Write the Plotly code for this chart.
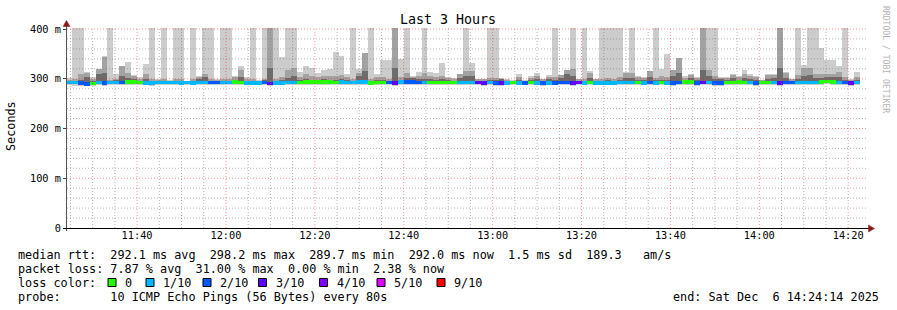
import plotly.graph_objects as go
from datetime import datetime, timedelta

# ---------------- data ----------------
DATA_START = datetime(2025, 12, 6, 11, 24, 0)
STEP_S = 80
RANGE_START = datetime(2025, 12, 6, 11, 24, 14)
RANGE_END = datetime(2025, 12, 6, 14, 24, 14)

smoke_max = [
    302, 404, 404, 313, 303, 320, 345, 404, 309, 326,
    333, 307, 304, 330, 404, 300, 404, 297, 404, 404,
    296, 404, 305, 404, 404, 300, 404, 404, 305, 326,
    304, 404, 297, 404, 404, 404, 344, 404, 404, 313,
    325, 322, 311, 318, 320, 354, 346, 310, 404, 320,
    352, 404, 310, 338, 338, 404, 339, 404, 305, 313,
    404, 313, 311, 332, 303, 301, 303, 404, 331, 300,
    300, 404, 404, 301, 299, 297, 309, 297, 305, 312,
    300, 307, 404, 307, 318, 404, 300, 404, 315, 300,
    404, 404, 404, 404, 313, 404, 305, 303, 315, 404,
    319, 349, 318, 341, 305, 309, 303, 404, 404, 404,
    303, 304, 310, 305, 318, 309, 305, 298, 309, 309,
    404, 313, 300, 404, 328, 404, 404, 362, 337, 338,
    326, 404, 299, 314,
]
smoke_mid = [
    297, 299, 309, 312, 300, 319, 344, 298, 300, 325,
    312, 306, 300, 310, 300, 298, 300, 296, 299, 300,
    295, 300, 304, 309, 300, 298, 300, 299, 303, 318,
    300, 299, 296, 300, 404, 300, 303, 318, 322, 303,
    310, 305, 303, 306, 305, 305, 308, 303, 300, 312,
    352, 300, 303, 303, 300, 404, 304, 312, 304, 305,
    312, 305, 303, 306, 301, 299, 310, 315, 315, 299,
    299, 302, 302, 300, 297, 296, 303, 296, 302, 305,
    299, 304, 303, 307, 317, 319, 299, 300, 312, 299,
    300, 302, 300, 303, 312, 312, 303, 301, 315, 302,
    305, 304, 318, 341, 302, 308, 301, 404, 318, 305,
    302, 302, 307, 303, 310, 306, 303, 297, 307, 308,
    404, 311, 299, 307, 321, 321, 310, 309, 310, 310,
    313, 303, 298, 303,
]
smoke_dark = [
    295, 296, 298, 303, 295, 309, 312, 295, 297, 306,
    302, 299, 296, 300, 296, 295, 296, 295, 296, 296,
    294, 296, 300, 303, 296, 296, 296, 296, 298, 303,
    296, 296, 295, 297, 321, 296, 297, 302, 305, 298,
    300, 298, 298, 299, 298, 298, 300, 298, 296, 306,
    316, 296, 298, 298, 296, 322, 298, 302, 301, 299,
    300, 299, 298, 300, 297, 296, 302, 306, 306, 296,
    296, 297, 297, 300, 295, 295, 298, 294, 297, 299,
    296, 299, 298, 302, 309, 305, 296, 296, 302, 296,
    296, 297, 296, 298, 302, 302, 298, 297, 303, 297,
    298, 298, 305, 311, 298, 301, 297, 318, 305, 299,
    300, 298, 301, 298, 301, 299, 298, 295, 300, 302,
    321, 302, 296, 300, 306, 308, 301, 301, 303, 303,
    303, 297, 296, 297,
]
smoke_min = [
    286.5, 286.0, 285.5, 285.0, 286.0, 286.5, 286.0, 286.5, 287.0, 286.5,
    287.0, 287.5, 287.0, 286.5, 286.0, 287.0, 286.5, 287.0, 287.0, 286.5,
    287.0, 286.5, 287.5, 287.0, 286.5, 287.0, 286.5, 287.0, 287.5, 287.0,
    286.5, 286.5, 286.5, 287.0, 285.0, 286.5, 286.5, 287.0, 287.0, 287.5,
    288.0, 288.0, 288.0, 288.0, 287.5, 287.5, 287.5, 287.5, 287.0, 287.5,
    287.5, 286.5, 287.0, 287.5, 287.0, 285.5, 287.5, 287.5, 287.5, 287.0,
    287.0, 287.5, 287.5, 287.0, 287.0, 287.0, 287.0, 287.0, 287.0, 286.5,
    285.5, 287.0, 286.0, 286.0, 286.5, 287.0, 286.5, 286.5, 287.0, 286.5,
    286.0, 286.5, 286.5, 287.0, 286.5, 286.0, 286.5, 286.5, 287.0, 286.5,
    286.5, 286.5, 286.5, 287.0, 287.0, 286.5, 287.5, 286.5, 286.5, 286.5,
    287.0, 286.5, 286.0, 286.5, 288.0, 288.0, 285.5, 286.5, 287.0, 286.0,
    286.0, 287.5, 287.5, 287.5, 287.5, 287.0, 286.0, 287.0, 287.5, 287.5,
    286.0, 287.0, 287.0, 286.5, 287.5, 287.0, 287.0, 287.5, 288.5, 288.0,
    287.5, 286.5, 285.5, 286.5,
]
median_rtt = [
    292.5, 292.3, 291.6, 289.8, 290.8, 292.0, 291.2, 292.1, 292.6, 292.0,
    293.2, 293.8, 292.4, 291.8, 291.6, 292.4, 292.0, 292.5, 292.1, 291.7,
    292.0, 291.9, 292.8, 292.4, 292.6, 292.8, 292.1, 292.0, 293.0, 292.5,
    291.5, 291.4, 291.6, 292.3, 290.8, 291.9, 291.6, 292.2, 292.0, 292.3,
    293.4, 293.6, 293.8, 293.5, 293.2, 292.6, 293.0, 292.8, 292.5, 293.2,
    293.0, 291.9, 292.4, 292.7, 292.4, 291.2, 293.0, 293.3, 293.0, 292.6,
    292.2, 292.6, 292.8, 292.4, 292.5, 292.2, 292.4, 292.2, 292.6, 292.0,
    291.0, 292.2, 291.4, 291.7, 291.9, 292.1, 291.6, 291.8, 292.4, 291.6,
    291.5, 291.8, 291.9, 292.2, 292.0, 291.8, 292.1, 291.9, 292.2, 291.8,
    291.9, 291.8, 291.7, 292.1, 292.4, 292.0, 292.8, 291.7, 292.0, 291.8,
    292.5, 291.9, 291.6, 292.4, 293.2, 293.2, 291.0, 292.0, 292.2, 291.1,
    291.3, 292.8, 292.8, 293.0, 292.7, 292.2, 291.4, 292.4, 292.5, 292.6,
    291.8, 292.2, 292.3, 292.0, 292.8, 292.6, 292.3, 293.0, 294.0, 293.6,
    292.6, 292.0, 291.0, 292.0,
]
loss_index = [
    1, 1, 2, 2, 0, 1, 2, 1, 1, 2,
    0, 0, 0, 1, 1, 1, 1, 1, 1, 1,
    1, 1, 1, 1, 2, 2, 1, 1, 0, 0,
    1, 1, 1, 2, 3, 1, 1, 1, 1, 0,
    0, 0, 0, 0, 0, 0, 1, 1, 1, 1,
    1, 0, 0, 0, 2, 3, 1, 2, 2, 2,
    1, 0, 0, 0, 0, 0, 1, 1, 1, 3,
    3, 1, 2, 3, 1, 0, 1, 2, 0, 1,
    2, 1, 2, 2, 2, 3, 3, 1, 0, 1,
    1, 1, 1, 1, 1, 1, 0, 1, 2, 1,
    0, 1, 2, 2, 0, 0, 2, 3, 1, 2,
    2, 0, 0, 0, 0, 1, 2, 0, 0, 1,
    3, 2, 2, 1, 1, 1, 1, 0, 0, 0,
    1, 2, 3, 1,
]
loss_labels = ["0", "1/10", "2/10", "3/10", "4/10", "5/10", "9/10"]
loss_colors = ["#26ff00", "#00b8ff", "#0059ff", "#5e00ff", "#7e00ff", "#dd00ff", "#ff0000"]

x_tick_labels = ["11:40", "12:00", "12:20", "12:40", "13:00", "13:20", "13:40", "14:00", "14:20"]
y_tickvals = [0, 100, 200, 300, 400]
y_ticktext = ["0", "100 m", "200 m", "300 m", "400 m"]

title_text = "Last 3 Hours"
legend_line1 = "median rtt:  292.1 ms avg  298.2 ms max  289.7 ms min  292.0 ms now  1.5 ms sd  189.3   am/s"
legend_line2 = "packet loss: 7.87 % avg  31.00 % max  0.00 % min  2.38 % now"
legend_line3 = "loss color:"
legend_line4 = "probe:       10 ICMP Echo Pings (56 Bytes) every 80s"
end_text = "end: Sat Dec  6 14:24:14 2025"
watermark = "RRDTOOL / TOBI OETIKER"

assert len(smoke_max) == len(smoke_mid) == len(smoke_dark) == len(smoke_min) == len(median_rtt) == len(loss_index)

# ---------------- geometry / styles ----------------
W, H = 897, 310
PL, PR, PT, PB = 67, 867, 28, 228
Y_MAX = 402
MONO = "DejaVu Sans Mono"
MED_THICK = 7.0


def px(x):
    return (x - PL) / (PR - PL)


def py(y):
    return (PB - y) / (PB - PT)


def nb(s):
    return s.replace(" ", "\u00a0")


def minutes(t):
    """time -> minutes since start of the displayed range (x-axis units)"""
    return (t - RANGE_START).total_seconds() / 60.0


X_SPAN = minutes(RANGE_END)
n = len(median_rtt)
xs = [minutes(DATA_START + timedelta(seconds=STEP_S * (i + 0.5))) for i in range(n)]
bw = STEP_S / 60.0

fig = go.Figure()
fig.add_bar(x=xs, base=smoke_min, y=[a - b for a, b in zip(smoke_max, smoke_min)],
            width=bw, marker=dict(color="#cccccc", line=dict(width=0)), hoverinfo="skip")
fig.add_bar(x=xs, base=median_rtt, y=[max(a - b, 0) for a, b in zip(smoke_mid, median_rtt)],
            width=bw, marker=dict(color="#a2a2a2", line=dict(width=0)), hoverinfo="skip")
fig.add_bar(x=xs, base=median_rtt, y=[max(a - b, 0) for a, b in zip(smoke_dark, median_rtt)],
            width=bw, marker=dict(color="#6c6c6c", line=dict(width=0)), hoverinfo="skip")
for k, col in enumerate(loss_colors):
    idx = [i for i in range(n) if loss_index[i] == k]
    if not idx:
        continue
    fig.add_bar(x=[xs[i] for i in idx], base=[median_rtt[i] - MED_THICK / 2 for i in idx],
                y=[MED_THICK] * len(idx), width=bw,
                marker=dict(color=col, line=dict(width=0)), hoverinfo="skip")

x_tickvals = [minutes(datetime(2025, 12, 6, 11, 40) + timedelta(minutes=20 * k)) for k in range(len(x_tick_labels))]

shapes = []
# horizontal grid (drawn over the data, as rrdtool does)
for v in range(20, 401, 20):
    major = v % 100 == 0
    shapes.append(dict(type="line", xref="paper", yref="y", x0=0, x1=1, y0=v, y1=v, layer="above",
                       line=dict(color="rgba(255,0,0,0.42)" if major else "rgba(120,120,120,0.55)",
                                 width=1, dash="1px,2px")))
# vertical grid every 5 min
t = datetime(2025, 12, 6, 11, 25, 0)
while t < RANGE_END:
    major = t.minute % 20 == 0
    xv = minutes(t)
    shapes.append(dict(type="line", xref="x", yref="paper", x0=xv, x1=xv, y0=0, y1=1, layer="above",
                       line=dict(color="rgba(255,0,0,0.42)" if major else "rgba(120,120,120,0.55)",
                                 width=1, dash="1px,2px")))
    t += timedelta(minutes=5)

# axis lines and arrows
shapes.append(dict(type="line", xref="paper", yref="paper", x0=px(66.5), x1=px(66.5), y0=py(231), y1=py(25),
                   line=dict(color="#555555", width=1), layer="above"))
shapes.append(dict(type="line", xref="paper", yref="paper", x0=px(63), x1=px(869), y0=py(228.5), y1=py(228.5),
                   line=dict(color="#000000", width=1), layer="above"))
shapes.append(dict(type="path", xref="paper", yref="paper", layer="above",
                   path=f"M {px(66.5)} {py(20.5)} L {px(63)} {py(26.5)} L {px(70)} {py(26.5)} Z",
                   fillcolor="#8b1a1a", line=dict(color="#8b1a1a", width=0.5)))
shapes.append(dict(type="path", xref="paper", yref="paper", layer="above",
                   path=f"M {px(874.5)} {py(228.5)} L {px(868.5)} {py(225)} L {px(868.5)} {py(232)} Z",
                   fillcolor="#8b1a1a", line=dict(color="#8b1a1a", width=0.5)))

annotations = []


def txt(s, x, y, size, xanchor="left", color="#000000", angle=0):
    annotations.append(dict(text=nb(s), x=px(x), y=py(y), xref="paper", yref="paper", showarrow=False,
                            xanchor=xanchor, yanchor="middle", textangle=angle,
                            font=dict(family=MONO, size=size, color=color)))


LEG = 11.8
txt(title_text, 448, 20, 13.3, xanchor="center")
txt("Seconds", 11, 126, LEG, xanchor="center", angle=-90)
txt(watermark, 886, 59, 8.1, xanchor="center", color="#b4b4b4", angle=90)
txt(legend_line1, 16, 254.5, LEG)
txt(legend_line2, 16, 268.5, LEG)
txt(legend_line3, 16, 282.5, LEG)
txt(legend_line4, 16, 296.5, LEG)
txt(end_text, 881, 296.5, LEG, xanchor="right")

box_x = [108, 146, 203, 258.5, 319.5, 377, 437]
label_x = [123, 160.5, 218, 274, 335, 391.5, 451.5]
for lab, col, bx, lx in zip(loss_labels, loss_colors, box_x, label_x):
    shapes.append(dict(type="rect", xref="paper", yref="paper", x0=px(bx), x1=px(bx + 8),
                       y0=py(286.5), y1=py(278.5), fillcolor=col, line=dict(color="#000000", width=1)))
    txt(lab, lx, 282.5, LEG)

fig.update_layout(
    width=W, height=H,
    margin=dict(l=PL, r=W - PR, t=PT, b=H - PB, pad=0),
    paper_bgcolor="#ffffff", plot_bgcolor="#ffffff",
    barmode="overlay", bargap=0, showlegend=False,
    shapes=shapes, annotations=annotations,
    xaxis=dict(range=[0, X_SPAN], showgrid=False, zeroline=False,
               tickvals=x_tickvals, ticktext=x_tick_labels, ticks="", showline=False,
               tickfont=dict(family=MONO, size=10.3, color="#000000"), fixedrange=True),
    yaxis=dict(range=[0, Y_MAX], showgrid=False, zeroline=False, tickvals=y_tickvals, ticktext=y_ticktext,
               ticks="outside", ticklen=3, tickcolor="#444444", showline=False,
               tickfont=dict(family=MONO, size=10.3, color="#000000"), fixedrange=True),
)

fig.write_html("out.html")
